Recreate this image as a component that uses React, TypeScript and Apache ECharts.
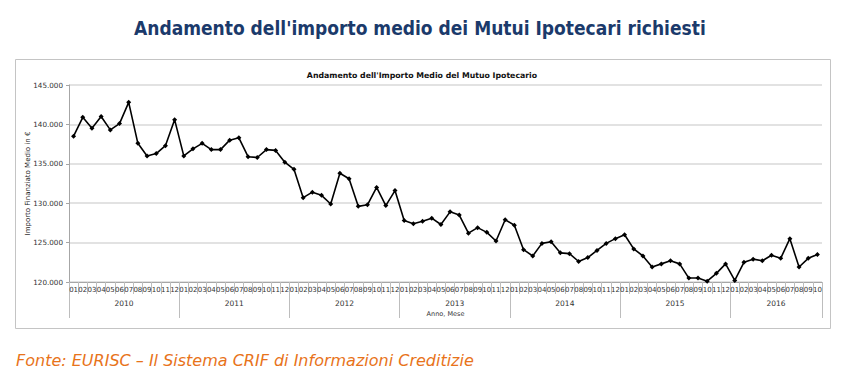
import React, { useEffect, useRef } from 'react';
import * as echarts from 'echarts';

const years = ['2010', '2011', '2012', '2013', '2014', '2015', '2016'];
const monthLabels = ['01', '02', '03', '04', '05', '06', '07', '08', '09', '10', '11', '12'];

const values2010 = [138500, 140900, 139500, 141000, 139300, 140100, 142800, 137600, 136000, 136300, 137300, 140600];
const values2011 = [136000, 136900, 137600, 136800, 136800, 138000, 138300, 135900, 135800, 136800, 136700, 135200];
const values2012 = [134300, 130700, 131400, 131000, 129900, 133800, 133100, 129600, 129800, 132000, 129700, 131600];
const values2013 = [127800, 127400, 127700, 128100, 127300, 128900, 128500, 126200, 126900, 126300, 125200, 127900];
const values2014 = [127200, 124100, 123300, 124900, 125100, 123700, 123600, 122600, 123100, 124000, 124900, 125500];
const values2015 = [126000, 124200, 123300, 121900, 122300, 122700, 122300, 120500, 120500, 120100, 121100, 122300];
const values2016 = [120200, 122500, 122900, 122700, 123400, 123000, 125500, 121900, 123000, 123500];

const valuesByYear = [values2010, values2011, values2012, values2013, values2014, values2015, values2016];

const yTicks = [120000, 125000, 130000, 135000, 140000, 145000];

const mainTitle = "Andamento dell'importo medio dei Mutui Ipotecari richiesti";
const chartTitle = "Andamento dell'Importo Medio del Mutuo Ipotecario";
const yName = 'Importo Finanziato Medio in €';
const xName = 'Anno, Mese';
const source = 'Fonte: EURISC – Il Sistema CRIF di Informazioni Creditizie';

export default function App() {
  const ref = useRef<HTMLDivElement>(null);

  useEffect(() => {
    if (!ref.current) return;
    const chart = echarts.init(ref.current, undefined, { renderer: 'svg' });

    const categories: string[] = [];
    const values: number[] = [];
    const boundaries: number[] = [0];
    const centers: number[] = [];
    valuesByYear.forEach((arr, yi) => {
      arr.forEach((v, mi) => {
        categories.push(years[yi] + '-' + monthLabels[mi]);
        values.push(v);
      });
      const start = boundaries[boundaries.length - 1];
      centers.push(start + arr.length / 2);
      boundaries.push(start + arr.length);
    });
    const total = values.length;

    const fmt = (v: number) => {
      const s = String(Math.round(v));
      return s.replace(/\B(?=(\d{3})+(?!\d))/g, '.');
    };

    const font = 'DejaVu Sans, Verdana, sans-serif';

    chart.setOption({
      animation: false,
      backgroundColor: '#ffffff',
      title: [
        {
          text: mainTitle,
          left: 129,
          top: 13,
          textStyle: {
            fontSize: 19,
            fontWeight: 'bold',
            color: '#1b3a6b',
            fontFamily: 'DejaVu Sans Condensed, DejaVu Sans, sans-serif',
          },
        },
        {
          text: chartTitle,
          left: 'center',
          top: 66,
          textStyle: { fontSize: 7.8, fontWeight: 'bold', color: '#111', fontFamily: font },
        },
        {
          text: source,
          left: 11,
          top: 347,
          textStyle: {
            fontSize: 16,
            fontStyle: 'italic',
            fontWeight: 'normal',
            color: '#e8731a',
            fontFamily: font,
          },
        },
      ],
      graphic: [
        {
          type: 'rect',
          z: -10,
          shape: { x: 15.5, y: 59.5, width: 815, height: 269 },
          style: { fill: 'none', stroke: '#c4c4c4', lineWidth: 1 },
        },
      ],
      grid: { left: 69, right: 22, top: 85, bottom: 95 },
      xAxis: [
        {
          type: 'category',
          data: categories,
          boundaryGap: true,
          position: 'bottom',
          axisLine: { lineStyle: { color: '#a6a6a6', width: 1 } },
          axisTick: { show: true, interval: 0, length: 12, lineStyle: { color: '#bdbdbd' } },
          axisLabel: {
            interval: 0,
            fontSize: 7,
            color: '#333',
            margin: 4,
            fontFamily: font,
            formatter: (v: string) => v.slice(5),
          },
          splitLine: { show: false },
          name: xName,
          nameLocation: 'middle',
          nameGap: 28,
          nameMoveOverlap: false,
          nameTextStyle: { fontSize: 6.5, color: '#333', fontFamily: font },
        },
        {
          type: 'value',
          min: 0,
          max: total,
          position: 'bottom',
          axisLine: { show: false },
          splitLine: { show: false },
          axisTick: {
            show: true,
            customValues: boundaries,
            length: 36,
            lineStyle: { color: '#bdbdbd' },
          },
          axisLabel: {
            customValues: centers,
            fontSize: 7.5,
            color: '#333',
            margin: 17,
            fontFamily: font,
            formatter: (v: number) => {
              const i = centers.findIndex((c) => Math.abs(c - v) < 1e-6);
              return i >= 0 ? years[i] : '';
            },
          },
        },
      ],
      yAxis: {
        type: 'value',
        min: yTicks[0],
        max: yTicks[yTicks.length - 1],
        interval: yTicks[1] - yTicks[0],
        axisLine: { show: true, lineStyle: { color: '#a6a6a6' } },
        axisTick: { show: true, length: 3, lineStyle: { color: '#a6a6a6' } },
        axisLabel: { fontSize: 7.2, color: '#333', margin: 6, fontFamily: font, formatter: fmt },
        splitLine: { lineStyle: { color: '#d9d9d9', width: 1.5 } },
        name: yName,
        nameLocation: 'middle',
        nameGap: 38,
        nameRotate: 90,
        nameMoveOverlap: false,
        nameTextStyle: { fontSize: 7, color: '#222', fontFamily: font },
      },
      series: [
        {
          type: 'line',
          xAxisIndex: 0,
          yAxisIndex: 0,
          data: values,
          symbol: 'diamond',
          symbolSize: 5,
          showSymbol: true,
          lineStyle: { color: '#000', width: 1.6 },
          itemStyle: { color: '#000' },
        },
      ],
    });

    return () => {
      chart.dispose();
    };
  }, []);

  return (
    <div
      ref={ref}
      style={{ position: 'absolute', left: 0, top: 0, width: 844, height: 377 }}
    />
  );
}
